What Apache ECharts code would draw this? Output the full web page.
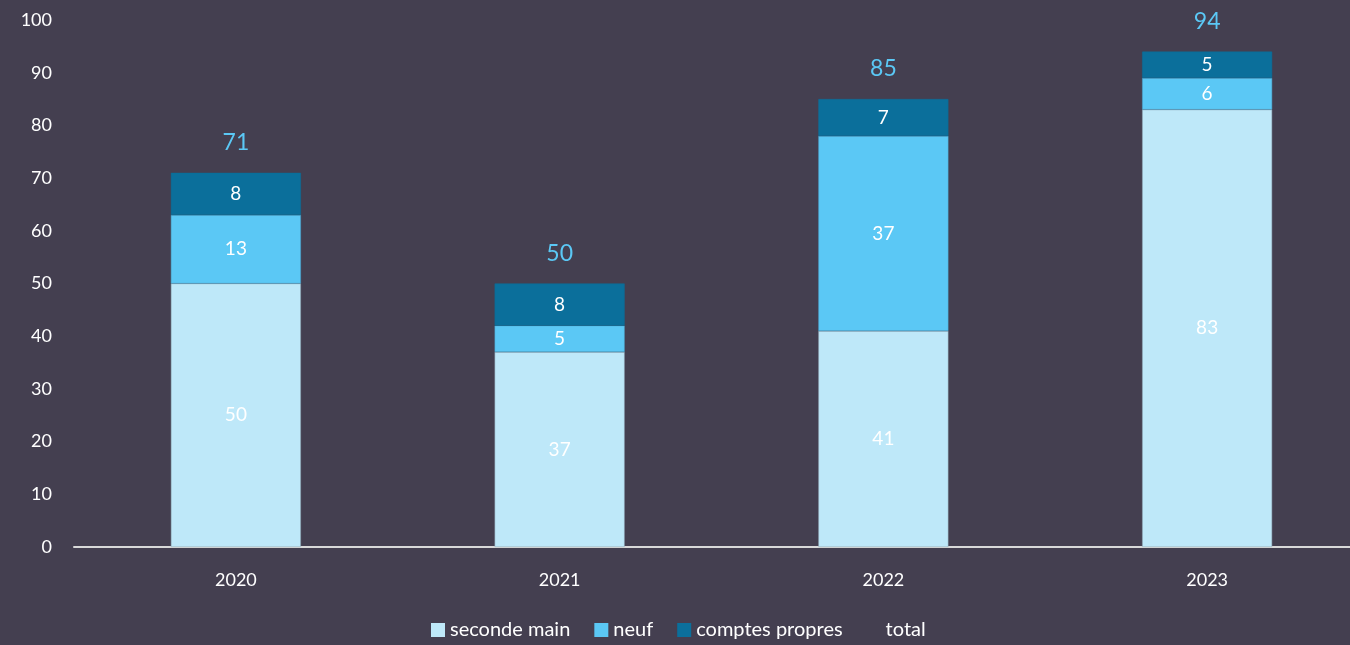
<!DOCTYPE html>
<html>
<head>
<meta charset="utf-8">
<script src="https://cdn.jsdelivr.net/npm/echarts@6/dist/echarts.min.js"></script>
<style>
  html, body { margin: 0; padding: 0; background: #443f50; overflow: hidden; }
  #chart { width: 1369px; height: 645px; }
</style>
</head>
<body>
<div id="chart"></div>
<script>
// values
const years = ['2020', '2021', '2022', '2023'];
const secondeMain = [50, 37, 41, 83];
const neuf = [13, 5, 37, 6];
const comptesPropres = [8, 8, 7, 5];
const totals = [71, 50, 85, 94];

const font = 'Lato, "Open Sans", sans-serif';

const segLabel = {
  show: true,
  color: '#ffffff',
  fontSize: 19,
  fontFamily: font
};

const chart = echarts.init(document.getElementById('chart'));
chart.setOption({
  backgroundColor: '#443f50',
  animation: false,
  grid: { left: 74, right: 0, top: 20, bottom: 98 },
  legend: {
    bottom: 0,
    left: 426,
    icon: 'rect',
    itemWidth: 14,
    itemHeight: 14,
    itemGap: 24,
    itemStyle: { borderWidth: 0 },
    textStyle: { color: '#ffffff', fontSize: 20, fontFamily: font },
    data: [
      { name: 'seconde main' },
      { name: 'neuf' },
      { name: 'comptes propres' },
      { name: 'total', itemStyle: { color: 'rgba(0,0,0,0)', borderWidth: 0 } }
    ]
  },
  xAxis: {
    type: 'category',
    data: years,
    axisLine: { lineStyle: { color: '#d9d9d9', width: 2 } },
    axisTick: { show: false },
    axisLabel: { color: '#ffffff', fontSize: 18, fontFamily: font, margin: 24 }
  },
  yAxis: {
    type: 'value',
    min: 0,
    max: 100,
    interval: 10,
    axisLine: { show: false },
    splitLine: { show: false },
    axisLabel: { color: '#ffffff', fontSize: 18, fontFamily: font, margin: 22 }
  },
  series: [
    {
      name: 'seconde main',
      type: 'bar',
      stack: 'a',
      barWidth: 130,
      data: secondeMain,
      itemStyle: { color: '#bee8f9', borderColor: '#8fa6b5', borderWidth: 0.5 },
      label: segLabel
    },
    {
      name: 'neuf',
      type: 'bar',
      stack: 'a',
      data: neuf,
      itemStyle: { color: '#5bc8f5', borderColor: '#4aa6cf', borderWidth: 0.5 },
      label: segLabel
    },
    {
      name: 'comptes propres',
      type: 'bar',
      stack: 'a',
      data: comptesPropres,
      itemStyle: { color: '#0b6f9b', borderColor: '#0b6f9b', borderWidth: 0.5 },
      label: segLabel
    },
    {
      name: 'total',
      type: 'line',
      data: totals,
      symbol: 'circle',
      symbolSize: 1,
      itemStyle: { color: 'rgba(0,0,0,0)' },
      lineStyle: { width: 0, opacity: 0 },
      label: {
        show: true,
        position: 'top',
        distance: 18,
        color: '#5bc8f5',
        fontSize: 23,
        fontFamily: font
      },
      z: 5
    }
  ]
});
</script>
</body>
</html>
